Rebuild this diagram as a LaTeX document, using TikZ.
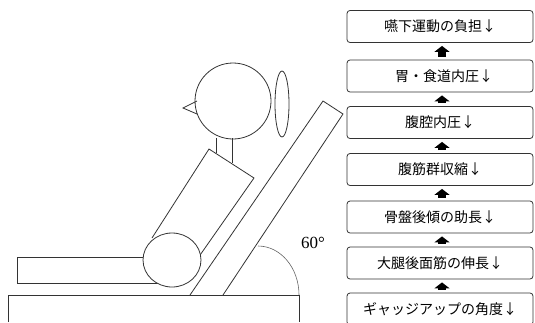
\documentclass[tikz,border=0pt]{standalone}
\usepackage{fontspec}
\newfontfamily\jpfont{Noto Sans CJK JP}
\newfontfamily\labelfont{Liberation Serif}
\usetikzlibrary{arrows.meta}
\begin{document}
\begin{tikzpicture}[x=1pt,y=-1pt,
  outline/.style={draw=black!80,line width=0.8pt},
  stepbox/.style={draw=black!80,line width=0.8pt,rounded corners=3pt,
    minimum width=186pt,minimum height=32pt,inner sep=0pt,
    font=\jpfont\fontsize{14}{16}\selectfont},
  uparrow/.style={line width=8pt,-{Triangle[width=15pt,length=6pt]},
    shorten <=3pt,shorten >=3pt}]
\useasboundingbox (0,0) rectangle (535,322);
% bed and seat back
\draw[outline] (8,322) -- (8,295) -- (299,295) -- (299,322);
\draw[outline] (190,295) -- (323,101) -- (343,114) -- (223,295);
% angle mark
\draw[black!60,line width=0.6pt] (258,246) arc[start angle=-90,end angle=0,x radius=41,y radius=49];
\node[font=\labelfont\fontsize{17}{19}\selectfont] (ang) at (313,243) {60°};
% legs
\draw[outline] (144,257) -- (17,257) -- (17,283) -- (158,283);
% trunk
\draw[outline] (152,238) -- (209,149) -- (254,178) -- (198,258);
% pelvis
\draw[outline,fill=white] (172,260) ellipse[x radius=29,y radius=27];
% neck
\draw[outline] (216,138) -- (216,153);
\draw[outline] (232,138) -- (232,163);
% head, beak, ear
\draw[outline] (233,101) circle[radius=38];
\draw[outline] (197,101) -- (183,108) -- (197,114);
\draw[outline] (282,104) ellipse[x radius=7,y radius=33];
% chain of effects
\node[stepbox] (b1) at (440,26.5) {嚥下運動の負担↓};
\node[stepbox] (b2) at (440,76) {\hspace{8pt}胃・食道内圧↓};
\node[stepbox] (b3) at (440,122.5) {腹腔内圧↓};
\node[stepbox] (b4) at (440,169.5) {腹筋群収縮↓};
\node[stepbox] (b5) at (440,217) {骨盤後傾の助長↓};
\node[stepbox] (b6) at (440,263) {大腿後面筋の伸長↓};
\node[stepbox] (b7) at (440,309) {ギャッジアップの角度↓};
\foreach \a/\b in {b7/b6,b6/b5,b5/b4,b4/b3,b3/b2,b2/b1}
  \draw[uparrow] ([xshift=2pt]\a.north) -- ([xshift=2pt]\b.south);
\end{tikzpicture}
\end{document}
